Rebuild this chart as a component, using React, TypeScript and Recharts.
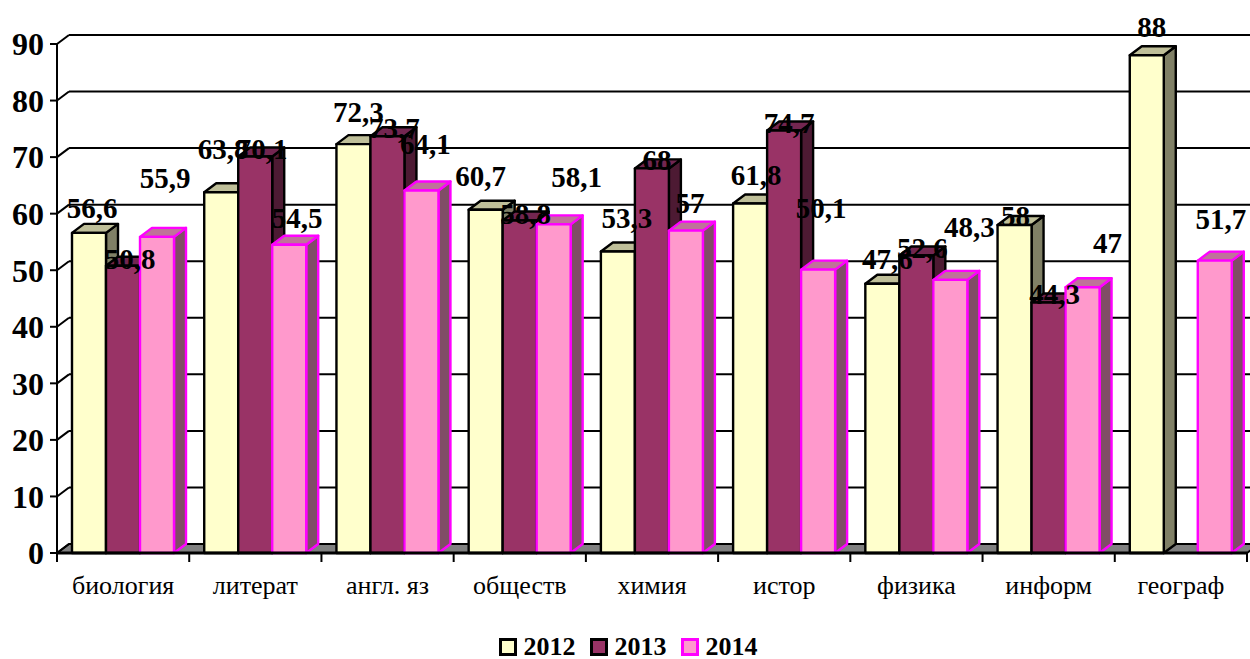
import { BarChart, Bar, XAxis, YAxis, CartesianGrid, Legend, LabelList } from "recharts";

const subjects = ["биология", "литерат", "англ. яз", "обществ", "химия", "истор", "физика", "информ", "географ"];
const values2012 = [56.6, 63.8, 72.3, 60.7, 53.3, 61.8, 47.6, 58, 88];
const values2013 = [50.8, 70.1, 73.7, 58.8, 68, 74.7, 52.6, 44.3, null];
const values2014 = [55.9, 54.5, 64.1, 58.1, 57, 50.1, 48.3, 47, 51.7];
const yTicks = [0, 10, 20, 30, 40, 50, 60, 70, 80, 90];

// label nudges [dx, lift above the bar top], excel placed them all over the place
const nudge2012 = [[3, 25], [2, 43], [5, 32], [-5, 34], [9, 34], [6, 28], [5, 25], [1, 9], [5, 28]];
const nudge2013 = [[7, 7], [7, 8], [7, 8], [6, 6], [5, 8], [5, 8], [6, 8], [6, 8], [0, 0]];
const nudge2014 = [[8, 59], [8, 27], [4, 46], [23, 47], [4, 28], [3, 62], [19, 53], [25, 44], [6, 42]];

const data = subjects.map((name, i) => ({
  name,
  y2012: values2012[i],
  y2013: values2013[i],
  y2014: values2014[i],
}));

const SERIF = "'Liberation Serif', 'Times New Roman', serif";
const DX = 12;
const DY = 9;
const CHART_W = 1250;
const CHART_H = 659;
const LEFT = 57;
const RIGHT = 3;
const CAT_W = (CHART_W - LEFT - RIGHT) / subjects.length;

const bar3d = (front: string, top: string, side: string, stroke: string) => (props: any) => {
  const { x, y, width, height } = props;
  if (!height) return null;
  const r = x + width;
  const b = y + height;
  return (
    <g stroke={stroke} strokeWidth={2.4} strokeLinejoin="round">
      <polygon points={`${r},${y} ${r + DX},${y - DY} ${r + DX},${b - DY} ${r},${b}`} fill={side} />
      <polygon points={`${x},${y} ${x + DX},${y - DY} ${r + DX},${y - DY} ${r},${y}`} fill={top} />
      <rect x={x} y={y} width={width} height={height} fill={front} />
    </g>
  );
};

const wallLine = (props: any) => {
  const { x1, x2, y1, index } = props;
  const isFloor = y1 > 500;
  return (
    <g key={index} stroke="#000" strokeWidth={2}>
      {isFloor && (
        <polygon
          points={`${x1},${y1} ${x1 + DX},${y1 - DY} ${x2 + DX},${y1 - DY} ${x2},${y1}`}
          fill="#808080"
        />
      )}
      <line x1={x1} y1={y1} x2={x1 + DX} y2={y1 - DY} />
      <line x1={x1 + DX} y1={y1 - DY} x2={x2 + DX} y2={y1 - DY} />
    </g>
  );
};

const SubjectTick = (props: any) => {
  const { x, y, payload, index } = props;
  const left = x - CAT_W / 2;
  return (
    <g>
      <line x1={left} y1={553} x2={left} y2={562} stroke="#000" strokeWidth={2} />
      {index === subjects.length - 1 && (
        <line x1={left + CAT_W} y1={553} x2={left + CAT_W} y2={562} stroke="#000" strokeWidth={2} />
      )}
      <text x={x} y={y + 33} textAnchor="middle" fontFamily={SERIF} fontSize={26} fill="#000">
        {payload.value}
      </text>
    </g>
  );
};

const valueLabel = (nudge: number[][]) => (props: any) => {
  const { x, y, width, value, index } = props;
  if (value == null) return null;
  const [dx, lift] = nudge[index];
  return (
    <text
      x={x + width / 2 + dx}
      y={y - lift + 10}
      textAnchor="middle"
      fontFamily={SERIF}
      fontWeight="bold"
      fontSize={29}
      fill="#000"
    >
      {String(value).replace(".", ",")}
    </text>
  );
};

const legendItems = [
  { name: "2012", fill: "#FFFFCC", stroke: "#000" },
  { name: "2013", fill: "#993366", stroke: "#000" },
  { name: "2014", fill: "#FF99CC", stroke: "#FF00FF" },
];

const YearLegend = () => (
  <div
    style={{
      display: "flex",
      justifyContent: "center",
      alignItems: "center",
      boxSizing: "border-box",
      height: 36,
      fontFamily: SERIF,
      paddingLeft: 23,
      paddingTop: 12,
    }}
  >
    {legendItems.map((it) => (
      <div key={it.name} style={{ display: "flex", alignItems: "center", marginRight: 14 }}>
        <span
          style={{
            display: "inline-block",
            boxSizing: "border-box",
            width: 18,
            height: 18,
            background: it.fill,
            border: `3px solid ${it.stroke}`,
            marginRight: 7,
          }}
        />
        <span style={{ fontWeight: "bold", fontSize: 26, lineHeight: "24px" }}>{it.name}</span>
      </div>
    ))}
  </div>
);

export default function App() {
  return (
    <div style={{ position: "absolute", left: 0, top: 0, width: CHART_W, height: CHART_H, overflow: "hidden", background: "#fff" }}>
      <BarChart
        width={CHART_W}
        height={CHART_H}
        data={data}
        margin={{ top: 44, right: RIGHT, bottom: 0, left: 0 }}
        barCategoryGap={15}
        barGap={0}
      >
        <CartesianGrid vertical={false} horizontal={wallLine} />
        <XAxis
          dataKey="name"
          interval={0}
          height={70}
          tick={SubjectTick}
          tickLine={false}
          axisLine={{ stroke: "#000", strokeWidth: 3 }}
        />
        <XAxis xAxisId="labels" dataKey="name" hide />
        <YAxis
          width={LEFT}
          domain={[0, 90]}
          ticks={yTicks}
          interval={0}
          tickSize={7}
          tickMargin={6}
          tick={{ fontFamily: SERIF, fontWeight: "bold", fontSize: 32, fill: "#000" }}
          tickLine={{ stroke: "#000", strokeWidth: 2 }}
          axisLine={{ stroke: "#000", strokeWidth: 2 }}
        />
        <Legend verticalAlign="bottom" height={36} content={YearLegend} />
        <Bar dataKey="y2012" isAnimationActive={false} shape={bar3d("#FFFFCC", "#BFBF99", "#808066", "#000")} />
        <Bar dataKey="y2013" isAnimationActive={false} shape={bar3d("#993366", "#732650", "#4D1A33", "#000")} />
        <Bar dataKey="y2014" isAnimationActive={false} shape={bar3d("#FF99CC", "#BF7399", "#804D66", "#FF00FF")} />
        {/* second pass so the labels end up above every bar */}
        <Bar xAxisId="labels" dataKey="y2012" fill="none" isAnimationActive={false} legendType="none">
          <LabelList dataKey="y2012" content={valueLabel(nudge2012)} />
        </Bar>
        <Bar xAxisId="labels" dataKey="y2013" fill="none" isAnimationActive={false} legendType="none">
          <LabelList dataKey="y2013" content={valueLabel(nudge2013)} />
        </Bar>
        <Bar xAxisId="labels" dataKey="y2014" fill="none" isAnimationActive={false} legendType="none">
          <LabelList dataKey="y2014" content={valueLabel(nudge2014)} />
        </Bar>
      </BarChart>
    </div>
  );
}
